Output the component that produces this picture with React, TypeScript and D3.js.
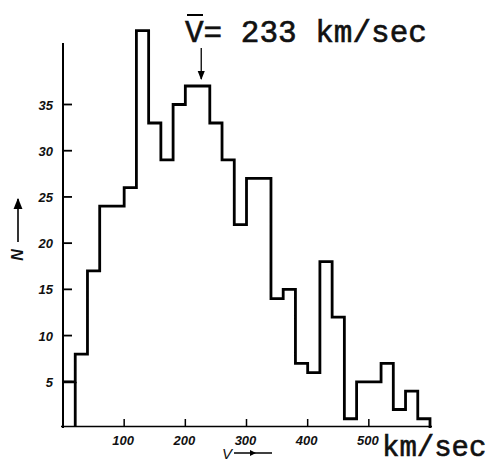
import React from "react";
import * as d3 from "d3";

const binStarts = [0, 20, 40, 60, 80, 100, 120, 140, 160, 180, 200, 220, 240, 260, 280, 300, 320, 340, 360, 380, 400, 420, 440, 460, 480, 500, 520, 540, 560, 580];
const binWidth = 20;
const counts = [5, 8, 17, 24, 24, 26, 43, 33, 29, 35, 37, 37, 33, 29, 22, 27, 27, 14, 15, 7, 6, 18, 12, 1, 5, 5, 7, 2, 4, 1];
const xTicks = [100, 200, 300, 400, 500];
const xTickLabels = ["100", "200", "300", "400", "500"];
const yTicks = [5, 10, 15, 20, 25, 30, 35];
const yTickLabels = ["5", "10", "15", "20", "25", "30", "35"];
const titleText = "V= 233 km/sec";
const unitText = "km/sec";
const meanArrowAt = 226;

export default function App() {
  const W = 497;
  const H = 464;
  const x = d3.scaleLinear().domain([0, 600]).range([63, 430]);
  const y = d3.scaleLinear().domain([0, 35]).range([428, 104.5]);

  const pts: [number, number][] = binStarts.map((b, i) => [b, counts[i]]);
  pts.push([binStarts[binStarts.length - 1] + binWidth, counts[counts.length - 1]]);
  pts.push([binStarts[binStarts.length - 1] + binWidth, 0]);
  const line = d3
    .line<[number, number]>()
    .x((d) => x(d[0]))
    .y((d) => y(d[1]))
    .curve(d3.curveStepAfter);
  const histPath = line(pts) || "";

  const tickFont = "'Liberation Sans', 'DejaVu Sans', sans-serif";
  const monoFont = "'Liberation Mono', 'DejaVu Sans Mono', monospace";
  const ax = x(meanArrowAt);

  return (
    <svg width={W} height={H} style={{ position: "fixed", left: 0, top: 0, background: "#fff" }}>
      <defs>
        <marker id="ah" viewBox="0 0 10 10" refX="9" refY="5" markerWidth="7" markerHeight="9" orient="auto">
          <path d="M0,1 L10,5 L0,9 Z" fill="#000" />
        </marker>
      </defs>
      {/* y axis */}
      <line x1={x(0)} x2={x(0)} y1={y(0)} y2={43} stroke="#000" strokeWidth={2} />
      {yTicks.map((t, i) => (
        <g key={"yt" + t}>
          <line x1={x(0)} x2={x(0) + 9} y1={y(t)} y2={y(t)} stroke="#000" strokeWidth={1.8} />
          <text
            x={x(0) - 10}
            y={y(t) + 5}
            textAnchor="end"
            fontFamily={tickFont}
            fontStyle="italic"
            fontWeight="bold"
            fontSize={13}
            fill="#111"
          >
            {yTickLabels[i]}
          </text>
        </g>
      ))}
      {/* x axis */}
      <line x1={x(0) - 2} x2={x(600) + 2} y1={y(0) - 1.5} y2={y(0) - 1.5} stroke="#000" strokeWidth={1.6} />
      {xTicks.map((t, i) => (
        <g key={"xt" + t}>
          <line x1={x(t)} x2={x(t)} y1={y(0) - 1.5} y2={y(0) - 9} stroke="#000" strokeWidth={1.5} />
          <text
            x={x(t) - 1}
            y={y(0) + 17}
            textAnchor="middle"
            fontFamily={tickFont}
            fontStyle="italic"
            fontWeight="bold"
            fontSize={13}
            fill="#111"
          >
            {xTickLabels[i]}
          </text>
        </g>
      ))}
      {/* histogram */}
      <path d={histPath} fill="none" stroke="#000" strokeWidth={2.8} strokeLinejoin="miter" />
      <line
        x1={x(binStarts[1])}
        x2={x(binStarts[1])}
        y1={y(0) - 1.5}
        y2={y(counts[0])}
        stroke="#000"
        strokeWidth={2.8}
      />
      {/* title */}
      <text x={185} y={42} fontFamily={monoFont} fontSize={31} fill="#111" stroke="#111" strokeWidth={0.6}>
        {titleText}
      </text>
      <line x1={187} x2={203} y1={15} y2={15} stroke="#000" strokeWidth={2} />
      <line x1={ax} x2={ax} y1={48} y2={79} stroke="#000" strokeWidth={1.3} markerEnd="url(#ah)" />
      {/* unit label */}
      <text x={382} y={456} fontFamily={monoFont} fontSize={29} fill="#111" stroke="#111" strokeWidth={0.6}>
        {unitText}
      </text>
      {/* x axis label */}
      <text x={222} y={459} fontFamily={tickFont} fontStyle="italic" fontSize={15} fill="#111">
        V
      </text>
      <line x1={234} x2={272} y1={453} y2={453} stroke="#000" strokeWidth={1.3} />
      <path d="M250,450 L256,453 L250,456 Z" fill="#000" />
      {/* y axis label */}
      <text
        transform="translate(23,255) rotate(-90)"
        fontFamily={tickFont}
        fontStyle="italic"
        fontWeight="bold"
        fontSize={16}
        fill="#111"
        textAnchor="middle"
      >
        N
      </text>
      <line x1={18} x2={18} y1={242} y2={199} stroke="#000" strokeWidth={1.6} markerEnd="url(#ah)" />
    </svg>
  );
}
